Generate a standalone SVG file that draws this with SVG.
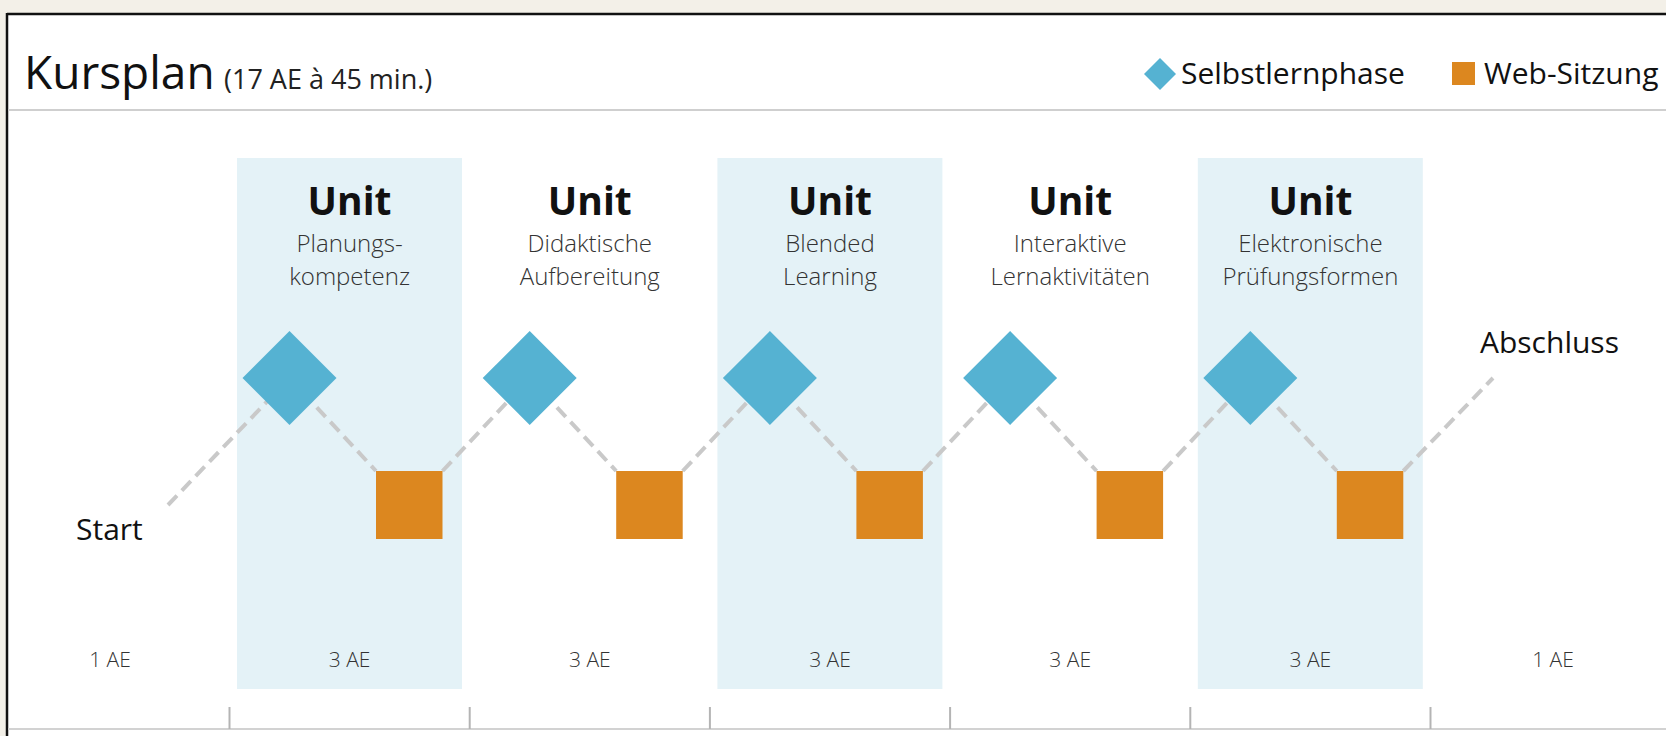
<svg xmlns="http://www.w3.org/2000/svg" width="1666" height="736" viewBox="0 0 1666 736">
  <style>
    text { font-family: "Open Sans", "Liberation Sans", sans-serif; }
    .title { font-size: 46px; fill: #111; }
    .sub { font-size: 27px; fill: #222; }
    .legend { font-size: 30px; fill: #111; }
    .unit { font-size: 39px; font-weight: 700; fill: #111; text-anchor: middle; }
    .desc { font-size: 24px; font-weight: 300; fill: #333; text-anchor: middle; }
    .ae { font-size: 21px; font-weight: 300; fill: #333; text-anchor: middle; }
    .lbl { font-size: 30px; fill: #111; }
    .band { fill: #e4f2f7; }
    .dia { fill: #55b2d2; }
    .sq { fill: #dc871f; }
    .conn { stroke: #c9c9c9; stroke-width: 4; stroke-dasharray: 13 7; fill: none; }
    .tick { stroke: #b4b4b4; stroke-width: 2; }
  </style>
  <defs>
    <polygon id="diamond" points="0,-47 47,0 0,47 -47,0"/>
  </defs>
  <!-- page background and frame -->
  <rect x="0" y="0" width="1666" height="736" fill="#f3f0e8"/>
  <rect x="7" y="14" width="1670" height="730" fill="#ffffff"/>
  <line x1="7" y1="14" x2="1666" y2="14" stroke="#111" stroke-width="2.5"/>
  <line x1="7" y1="13" x2="7" y2="736" stroke="#111" stroke-width="2.5"/>
  <line x1="8" y1="110" x2="1666" y2="110" stroke="#cfcfcf" stroke-width="2"/>
  <line x1="8" y1="729" x2="1666" y2="729" stroke="#d2d2d2" stroke-width="2"/>

  <!-- header -->
  <g id="header">
    <text class="title" x="24" y="89">Kursplan</text>
    <text class="sub" x="224" y="89">(17 AE à 45 min.)</text>
  </g>
  <g id="legend">
    <polygon class="dia" points="1160,58 1176,74 1160,90 1144,74"/>
    <text class="legend" x="1181" y="84">Selbstlernphase</text>
    <rect class="sq" x="1452" y="62" width="23" height="23"/>
    <text class="legend" x="1484" y="84">Web-Sitzung</text>
  </g>

  <!-- bands -->
  <g id="bands">
    <rect class="band" x="237" y="158" width="225" height="531"/>
    <rect class="band" x="717.4" y="158" width="225" height="531"/>
    <rect class="band" x="1197.8" y="158" width="225" height="531"/>
  </g>

  <!-- connectors -->
  <g id="connectors">
    <line class="conn" x1="168" y1="505" x2="289.5" y2="378"/>
    <line class="conn" x1="289.5" y1="378" x2="376" y2="471"/>
    <line class="conn" x1="442.5" y1="471" x2="529.7" y2="378"/>
    <line class="conn" x1="529.7" y1="378" x2="616.2" y2="471"/>
    <line class="conn" x1="682.7" y1="471" x2="769.9" y2="378"/>
    <line class="conn" x1="769.9" y1="378" x2="856.4" y2="471"/>
    <line class="conn" x1="922.9" y1="471" x2="1010.1" y2="378"/>
    <line class="conn" x1="1010.1" y1="378" x2="1096.6" y2="471"/>
    <line class="conn" x1="1163.1" y1="471" x2="1250.3" y2="378"/>
    <line class="conn" x1="1250.3" y1="378" x2="1336.8" y2="471"/>
    <line class="conn" x1="1403.3" y1="471" x2="1493" y2="378"/>
  </g>

  <!-- start / end -->
  <g id="start">
    <text class="lbl" x="76" y="540">Start</text>
    <text class="ae" x="110" y="667">1 AE</text>
  </g>
  <g id="end">
    <text class="lbl" x="1480" y="353">Abschluss</text>
    <text class="ae" x="1553" y="667">1 AE</text>
  </g>

  <!-- units -->
  <g id="unit1">
    <text class="unit" x="349.6" y="215">Unit</text>
    <text class="desc" x="349.6" y="252">Planungs-</text>
    <text class="desc" x="349.6" y="285">kompetenz</text>
    <use href="#diamond" class="dia" x="289.5" y="378"/>
    <rect class="sq" x="376" y="471" width="66.5" height="68"/>
    <text class="ae" x="349.6" y="667">3 AE</text>
  </g>
  <g id="unit2">
    <text class="unit" x="589.8" y="215">Unit</text>
    <text class="desc" x="589.8" y="252">Didaktische</text>
    <text class="desc" x="589.8" y="285">Aufbereitung</text>
    <use href="#diamond" class="dia" x="529.7" y="378"/>
    <rect class="sq" x="616.2" y="471" width="66.5" height="68"/>
    <text class="ae" x="589.8" y="667">3 AE</text>
  </g>
  <g id="unit3">
    <text class="unit" x="830" y="215">Unit</text>
    <text class="desc" x="830" y="252">Blended</text>
    <text class="desc" x="830" y="285">Learning</text>
    <use href="#diamond" class="dia" x="769.9" y="378"/>
    <rect class="sq" x="856.4" y="471" width="66.5" height="68"/>
    <text class="ae" x="830" y="667">3 AE</text>
  </g>
  <g id="unit4">
    <text class="unit" x="1070.2" y="215">Unit</text>
    <text class="desc" x="1070.2" y="252">Interaktive</text>
    <text class="desc" x="1070.2" y="285">Lernaktivitäten</text>
    <use href="#diamond" class="dia" x="1010.1" y="378"/>
    <rect class="sq" x="1096.6" y="471" width="66.5" height="68"/>
    <text class="ae" x="1070.2" y="667">3 AE</text>
  </g>
  <g id="unit5">
    <text class="unit" x="1310.4" y="215">Unit</text>
    <text class="desc" x="1310.4" y="252">Elektronische</text>
    <text class="desc" x="1310.4" y="285">Prüfungsformen</text>
    <use href="#diamond" class="dia" x="1250.3" y="378"/>
    <rect class="sq" x="1336.8" y="471" width="66.5" height="68"/>
    <text class="ae" x="1310.4" y="667">3 AE</text>
  </g>

  <!-- timeline ticks -->
  <g id="ticks">
    <line class="tick" x1="229.5" y1="707" x2="229.5" y2="729"/>
    <line class="tick" x1="469.7" y1="707" x2="469.7" y2="729"/>
    <line class="tick" x1="709.9" y1="707" x2="709.9" y2="729"/>
    <line class="tick" x1="950.1" y1="707" x2="950.1" y2="729"/>
    <line class="tick" x1="1190.3" y1="707" x2="1190.3" y2="729"/>
    <line class="tick" x1="1430.5" y1="707" x2="1430.5" y2="729"/>
  </g>
</svg>
